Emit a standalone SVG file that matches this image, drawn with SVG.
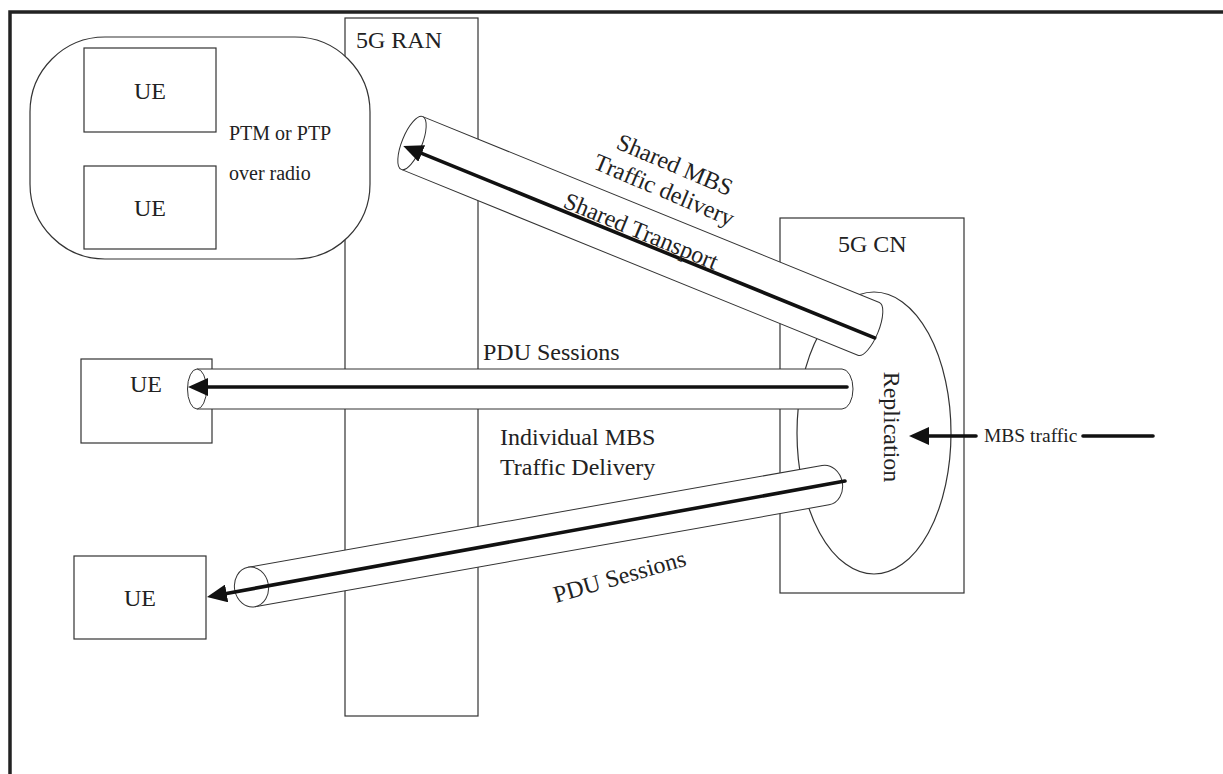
<svg xmlns="http://www.w3.org/2000/svg" width="1223" height="774" viewBox="0 0 1223 774">
<style>
.ln{fill:none;stroke:#333;stroke-width:1.2}
.box{fill:#fff;stroke:#333;stroke-width:1.2}
.tube{fill:#fff;stroke:#333;stroke-width:1}
.arr{fill:none;stroke:#111;stroke-width:3.6;stroke-linecap:round}
text{font-family:"Liberation Serif","Times New Roman",serif;font-size:24px;fill:#222}
</style>
<defs>
<marker id="ah" markerUnits="userSpaceOnUse" viewBox="0 0 20 18" markerWidth="20" markerHeight="18" refX="10" refY="9" orient="auto">
<path d="M0,0 L20,9 L0,18 Z" fill="#111"/>
</marker>
</defs>
<rect width="1223" height="774" fill="#fff"/>
<g id="frame">
<path d="M10,774 V12 H1223" fill="none" stroke="#222" stroke-width="3.5"/>
</g>
<g id="ran">
<rect class="box" x="345" y="18" width="133" height="698"/>
<text x="356" y="48">5G RAN</text>
</g>
<g id="ue-group">
<rect class="box" x="30" y="37" width="340" height="222" rx="75" ry="75"/>
<text x="229" y="140" font-size="20" style="font-size:20px">PTM or PTP</text>
<text x="229" y="180" style="font-size:20px">over radio</text>
</g>
<g id="ue1">
<rect class="box" x="84" y="48" width="132" height="84"/>
<text x="150" y="99" text-anchor="middle">UE</text>
</g>
<g id="ue2">
<rect class="box" x="84" y="166" width="132" height="83"/>
<text x="150" y="216" text-anchor="middle">UE</text>
</g>
<g id="ue3">
<rect class="box" x="81" y="359" width="131" height="84"/>
<text x="146" y="392" text-anchor="middle">UE</text>
</g>
<g id="ue4">
<rect class="box" x="74" y="556" width="132" height="83"/>
<text x="140" y="606" text-anchor="middle">UE</text>
</g>
<g id="cn">
<rect class="box" x="780" y="218" width="184" height="375"/>
<text x="838" y="252">5G CN</text>
</g>
<g id="replication">
<ellipse class="box" cx="874" cy="433" rx="77" ry="141"/>
<text transform="translate(884,427) rotate(90)" text-anchor="middle">Replication</text>
</g>
<g id="connectors">
<g id="tube-shared" transform="translate(412,143) rotate(22.15)">
<path class="tube" d="M0,-28.5 H493 A10,28.5 0 0 1 493,28.5 H0"/>
<ellipse class="tube" cx="0" cy="0" rx="10" ry="28.5"/>
<line class="arr" x1="502" y1="6" x2="3" y2="6" marker-end="url(#ah)"/>
</g>
<g id="tube-pdu1">
<path class="tube" d="M197,369 H842 A11,20 0 0 1 842,409 H197"/>
<ellipse class="tube" cx="197" cy="389" rx="9.5" ry="20"/>
<line class="arr" x1="847" y1="387" x2="198" y2="387" marker-end="url(#ah)"/>
</g>
<g id="tube-pdu2" transform="translate(251.5,587) rotate(-10.06)">
<path class="tube" d="M0,-20 H583 A17,20 0 0 1 583,20 H0"/>
<ellipse class="tube" cx="0" cy="0" rx="17" ry="20"/>
</g>
<line class="arr" x1="845" y1="481" x2="216.8" y2="595.2" marker-end="url(#ah)"/>
<line class="arr" x1="1083" y1="436" x2="1153" y2="436" stroke-width="3.2"/>
<line class="arr" x1="976" y1="436" x2="919" y2="436" stroke-width="3.2" marker-end="url(#ah)"/>
</g>
<g id="labels">
<text transform="translate(615,148) rotate(23)">Shared MBS</text>
<text transform="translate(592,168) rotate(23)">Traffic delivery</text>
<text transform="translate(562,207) rotate(22.5)">Shared Transport</text>
<text x="483" y="360">PDU Sessions</text>
<text x="500" y="445">Individual MBS</text>
<text x="500" y="475">Traffic Delivery</text>
<text transform="translate(556,603) rotate(-16)">PDU Sessions</text>
<text x="984" y="442" style="font-size:19.5px">MBS traffic</text>
</g>
</svg>
